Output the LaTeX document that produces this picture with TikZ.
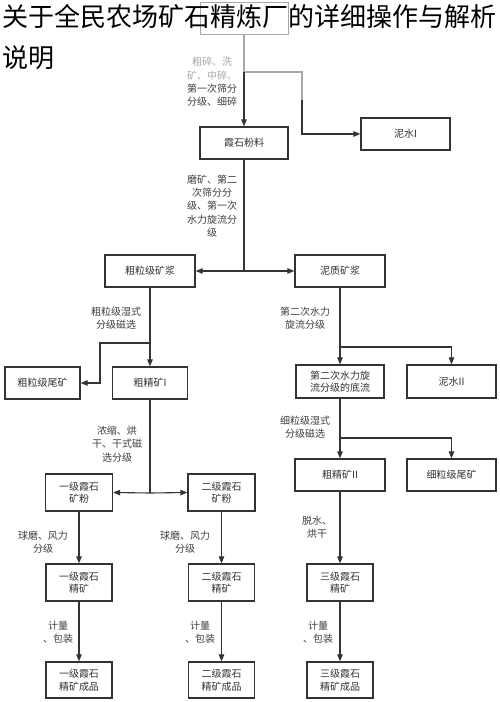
\documentclass[tikz,border=0pt]{standalone}
\usepackage{fontspec}
\setmainfont{Noto Sans CJK SC}
\usetikzlibrary{arrows.meta}
\definecolor{ln}{HTML}{333333}
\definecolor{lg}{HTML}{A8A8A8}
\begin{document}
\begin{tikzpicture}[x=1pt,y=-1pt,
  box/.style={draw=ln,line width=1.3pt,minimum width=#1,inner sep=0pt,align=center,font=\fontsize{10}{12.5}\selectfont,text=black!80},
  box/.default=88pt,
  lbl/.style={align=center,font=\fontsize{10}{13.2}\selectfont,text=black!75,inner sep=0pt},
  conn/.style={draw=ln,line width=1.1pt},
  arr/.style={conn,-{Triangle[length=7pt,width=5.5pt]}},
  darr/.style={conn,{Triangle[length=7pt,width=5.5pt]}-{Triangle[length=7pt,width=5.5pt]}}]
\useasboundingbox[fill=white] (0,0) rectangle (500,702);
% boxes
\node[box=88pt,minimum height=32pt,draw=lg,line width=1pt] (top) at (244,18) {};
\node[box=88pt,minimum height=32pt] (fl) at (244,143) {霞石粉料};
\node[box=89pt,minimum height=32pt] (ns1) at (405.5,134) {泥水I};
\node[box=90pt,minimum height=32pt] (czj) at (150,271) {粗粒级矿浆};
\node[box=90pt,minimum height=32pt] (nzj) at (340,271) {泥质矿浆};
\node[box=75pt,minimum height=32pt] (wk1) at (42.5,383) {粗粒级尾矿};
\node[box=75pt,minimum height=32pt] (cj1) at (150,383) {粗精矿I};
\node[box=88pt,minimum height=33pt] (dl) at (340,381.5) {第二次水力旋\\流分级的底流};
\node[box=89pt,minimum height=33pt] (ns2) at (451.5,381.5) {泥水II};
\node[box=90pt,minimum height=32pt] (cj2) at (340,475) {粗精矿II};
\node[box=89pt,minimum height=32pt] (wk2) at (451.5,475) {细粒级尾矿};
\node[box=67pt,minimum height=37pt] (kf1) at (79,492.5) {一级霞石\\矿粉};
\node[box=67pt,minimum height=37pt] (kf2) at (221.5,492.5) {二级霞石\\矿粉};
\node[box=66pt,minimum height=37pt] (jk1) at (79,582.5) {一级霞石\\精矿};
\node[box=66pt,minimum height=37pt] (jk2) at (221.5,582.5) {二级霞石\\精矿};
\node[box=66pt,minimum height=37pt] (jk3) at (340,582.5) {三级霞石\\精矿};
\node[box=66pt,minimum height=36pt] (cp1) at (79,680) {一级霞石\\精矿成品};
\node[box=66pt,minimum height=36pt] (cp2) at (221.5,680) {二级霞石\\精矿成品};
\node[box=66pt,minimum height=36pt] (cp3) at (340,680) {三级霞石\\精矿成品};
% junction coordinates
\coordinate (j0) at (244,72);
\coordinate (j0r) at (302,72);
\coordinate (j0d) at (302,100);
\coordinate (j1) at (244,271);
\coordinate (j2) at (150,343);
\coordinate (j2l) at (100,343);
\coordinate (j3) at (340,347);
\coordinate (j4) at (340,438);
\coordinate (j5) at (150,493);
% connectors
\draw[draw=lg,line width=1.1pt] (top.south) -- (j0) -- (j0r) -- (j0d);
\draw[arr] (j0) -- (fl.north);
\draw[arr] (j0d) |- (ns1.west);
\draw[conn] (fl.south) -- (j1);
\draw[darr] (czj.east) -- (nzj.west);
\draw[arr] (czj.south) -- (cj1.north);
\draw[arr] (j2) -- (j2l) |- (wk1.east);
\draw[arr] (nzj.south) -- (dl.north);
\draw[arr] (j3) -| (ns2.north);
\draw[arr] (dl.south) -- (cj2.north);
\draw[arr] (j4) -| (wk2.north);
\draw[conn] (cj1.south) -- (j5);
\draw[arr] (j5) -- (kf1.east);
\draw[arr] (j5) -- (kf2.west);
\draw[arr] (kf1.south) -- (jk1.north);
\draw[arr] (kf2.south) -- (jk2.north);
\draw[arr] (cj2.south) -- (jk3.north);
\draw[arr] (jk1.south) -- (cp1.north);
\draw[arr] (jk2.south) -- (cp2.north);
\draw[arr] (jk3.south) -- (cp3.north);
% labels
\node[lbl] (l1) at (212,82) {{\color{lg}粗碎、洗}\\{\color{lg}矿、中碎、}\\第一次筛分\\分级、细碎};
\node[lbl] (l2) at (212,206) {磨矿、第二\\次筛分分\\级、第一次\\水力旋流分\\级};
\node[lbl] (l3) at (116,318) {粗粒级湿式\\分级磁选};
\node[lbl] (l4) at (305,318) {第二次水力\\旋流分级};
\node[lbl] (l5) at (305,427) {细粒级湿式\\分级磁选};
\node[lbl] (l6) at (117,444) {浓缩、烘\\干、干式磁\\选分级};
\node[lbl] (l7) at (43,542) {球磨、风力\\分级};
\node[lbl] (l8) at (185,542) {球磨、风力\\分级};
\node[lbl] (l9) at (317,527) {脱水、\\烘干};
\node[lbl] (l10) at (58,632) {计量\\、包装};
\node[lbl] (l11) at (200,632) {计量\\、包装};
\node[lbl] (l12) at (318,632) {计量\\、包装};
% title
\node[anchor=north west,inner sep=0pt,align=left,font=\fontsize{26}{41}\selectfont] (title) at (2,4) {关于全民农场矿石精炼厂的详细操作与解析\\说明};
\end{tikzpicture}
\end{document}
